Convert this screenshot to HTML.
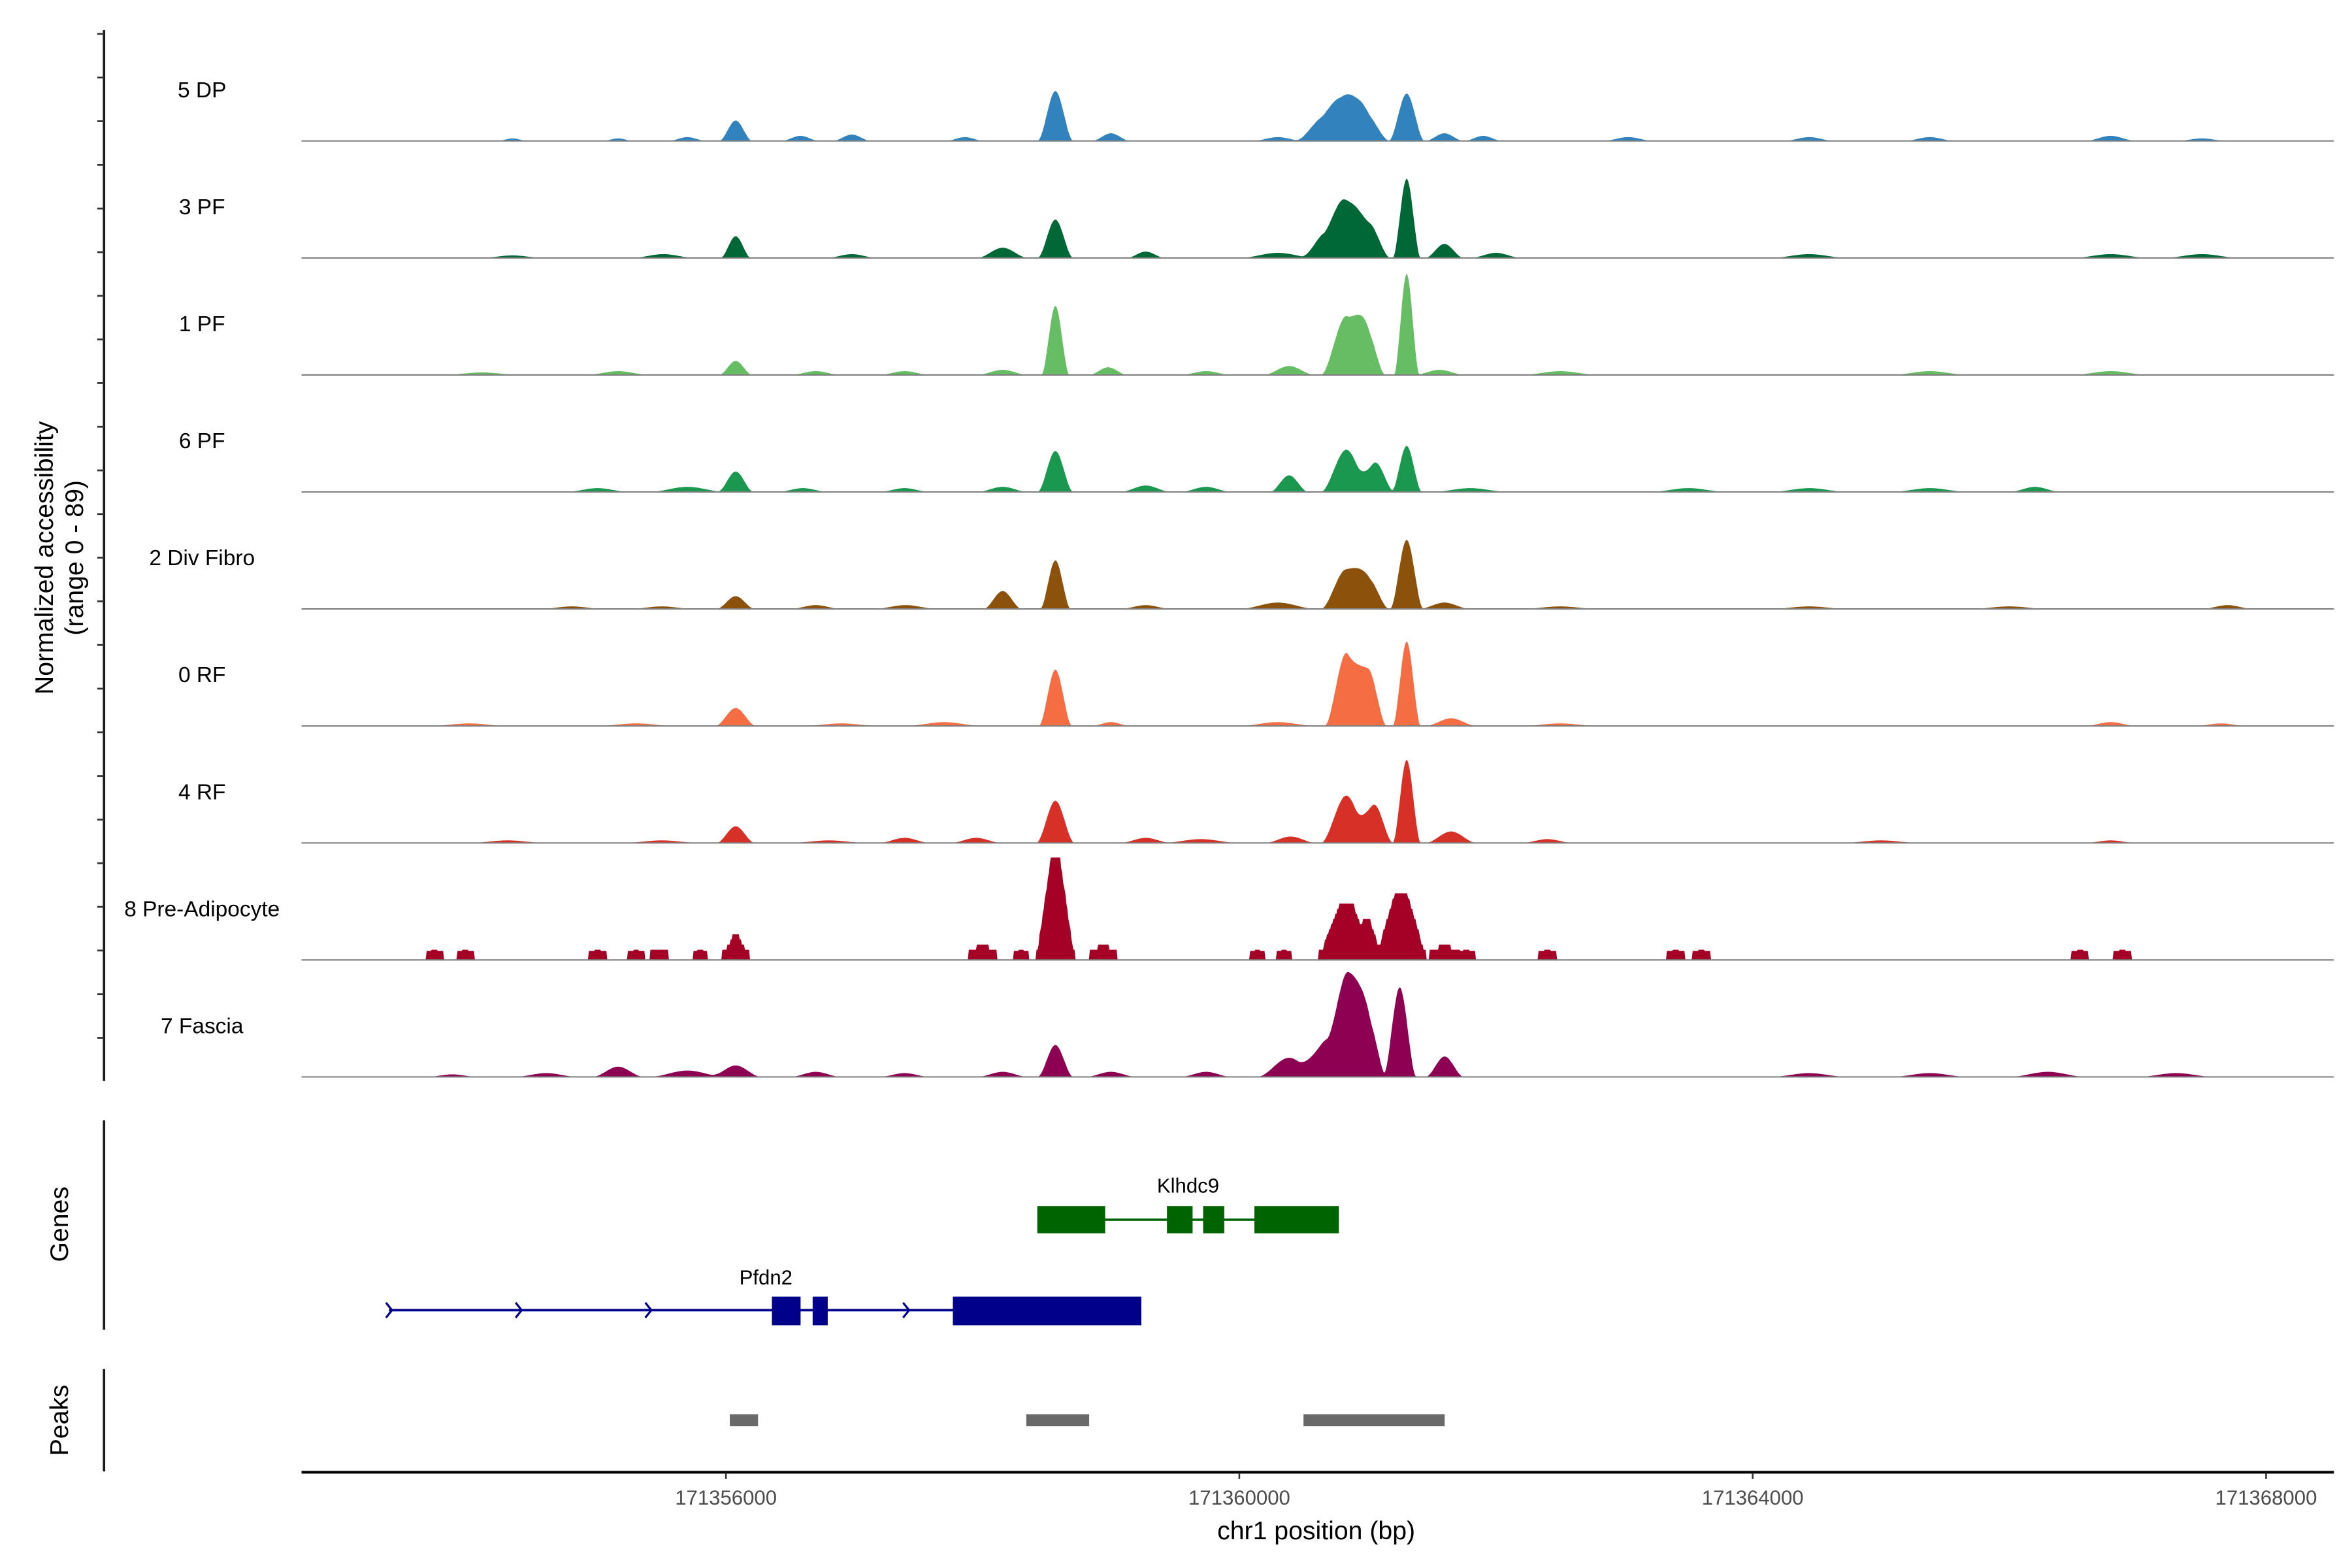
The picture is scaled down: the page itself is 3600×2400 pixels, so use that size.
<!DOCTYPE html>
<html><head><meta charset="utf-8"><style>
html,body{margin:0;padding:0;background:#fff}
svg{display:block}
text{font-family:"Liberation Sans",sans-serif}
</style></head><body>
<svg id="chart" width="3600" height="2400" viewBox="0 0 1560 1040" xmlns="http://www.w3.org/2000/svg">
<g id="tracks"></g>
<line x1="69" y1="20" x2="69" y2="717" stroke="#1a1a1a" stroke-width="1.6"/>
<g id="yticks"></g>
<text transform="translate(35,370) rotate(-90)" text-anchor="middle" font-size="17">Normalized accessibility</text>
<text transform="translate(55,370) rotate(-90)" text-anchor="middle" font-size="17">(range 0 - 89)</text>
<line x1="69" y1="743" x2="69" y2="882" stroke="#1a1a1a" stroke-width="1.6"/>
<text transform="translate(45,812) rotate(-90)" text-anchor="middle" font-size="17">Genes</text>
<g>
<line x1="733" y1="809" x2="888" y2="809" stroke="#006400" stroke-width="1.6"/>
<rect x="688" y="800" width="45" height="18" fill="#006400"/>
<rect x="774" y="800" width="17" height="18" fill="#006400"/>
<rect x="798" y="800" width="14" height="18" fill="#006400"/>
<rect x="832" y="800" width="56" height="18" fill="#006400"/>
<text x="788" y="791" text-anchor="middle" font-size="13.5">Klhdc9</text>
</g>
<g>
<line x1="258" y1="869" x2="757" y2="869" stroke="#00008B" stroke-width="1.6"/>
<path d="M256,864 L260,869 L256,874 M342,864 L346,869 L342,874 M428,864 L432,869 L428,874 M599,864 L603,869 L599,874" stroke="#00008B" stroke-width="1.4" fill="none"/>
<rect x="512" y="860" width="19" height="19" fill="#00008B"/>
<rect x="539" y="860" width="10" height="19" fill="#00008B"/>
<rect x="632" y="860" width="125" height="19" fill="#00008B"/>
<text x="508" y="852" text-anchor="middle" font-size="13.5">Pfdn2</text>
</g>
<line x1="69" y1="908" x2="69" y2="976" stroke="#1a1a1a" stroke-width="1.6"/>
<text transform="translate(45,942) rotate(-90)" text-anchor="middle" font-size="17">Peaks</text>
<g id="peaks"></g>
<line x1="200" y1="976.5" x2="1548" y2="976.5" stroke="#000" stroke-width="1.8"/>
<g id="xticks"></g>
<text x="873" y="1021" text-anchor="middle" font-size="17">chr1 position (bp)</text>
</svg>
<script>
const NS="http://www.w3.org/2000/svg";
const trackNames=["5 DP","3 PF","1 PF","6 PF","2 Div Fibro","0 RF","4 RF","8 Pre-Adipocyte","7 Fascia"];
const trackColors=["#3182bd","#006837","#66bd63","#1a9850","#8c510a","#f46d43","#d73027","#a50026","#8e0152"];
const xTicks=[171356000,171360000,171364000,171368000];
const peakStarts=[171356030,171358340,171360500];
const peakEnds=[171356250,171358830,171361600];
// bump positions (bp), heights (0-89 scale), half-widths (bp)
const pos_dp=[171354338,171355160,171355700,171356076,171356580,171356981,171357862,171358567,171359000,171360300,171360681,171360834,171360975,171361304,171361598,171361900,171363030,171364440,171365380,171366790,171367500];
const val_dp=[2,2,3,16,4,5,3,39,6,3,20,25,22,37,6,4,3,3,3,4,2];
const wid_dp=[120,120,150,130,150,150,150,140,150,200,250,200,200,140,150,150,200,200,200,200,200];
const pos_pf3=[171354338,171355512,171356076,171356981,171358156,171358567,171359271,171360300,171360681,171360834,171361000,171361304,171361598,171362000,171364440,171366790,171367500];
const val_pf3=[2,3,17,3,8,30,5,4,20,42,28,62,11,4,3,3,3];
const wid_pf3=[250,250,120,200,200,140,150,300,200,180,180,110,150,200,300,300,300];
const pos_pf1=[171354100,171355160,171356076,171356700,171357392,171358156,171358567,171358978,171359741,171360388,171360834,171360990,171361304,171361560,171362500,171365380,171366790];
const val_pf1=[2,3,11,3,3,4,54,6,3,7,46,35,79,4,3,3,3];
const wid_pf1=[300,250,130,200,200,200,110,150,200,200,200,150,100,200,300,300,300];
const pos_pf6=[171355000,171355700,171356076,171356600,171357392,171358156,171358567,171359271,171359741,171360388,171360834,171361060,171361304,171361800,171363500,171364440,171365380,171366200];
const val_pf6=[3,4,16,3,3,4,32,5,4,13,33,23,36,3,3,3,3,4];
const wid_pf6=[250,300,140,200,200,200,140,200,200,150,200,150,120,300,300,300,300,200];
const pos_div=[171354800,171355500,171356076,171356700,171357400,171358156,171358567,171359271,171360300,171360834,171361000,171361304,171361598,171362500,171364440,171366000,171367700];
const val_div=[2,2,10,3,3,14,38,3,5,31,24,54,5,2,2,2,3];
const wid_div=[250,250,150,200,250,150,120,200,300,200,170,130,200,300,300,300,200];
const pos_rf0=[171354000,171355300,171356076,171356900,171357700,171358567,171359000,171360300,171360834,171361000,171361304,171361650,171362500,171366790,171367650];
const val_rf0=[2,2,14,2,3,44,3,3,57,45,66,6,2,3,2];
const wid_rf0=[300,300,160,300,300,130,150,300,170,150,110,200,300,200,200];
const pos_rf4=[171354300,171355500,171356076,171356800,171357392,171357950,171358567,171359271,171359700,171360400,171360834,171361050,171361304,171361650,171362400,171365000,171366790];
const val_rf4=[2,2,13,2,4,4,33,4,3,5,37,30,65,9,3,2,2];
const wid_rf4=[300,300,150,300,200,200,150,200,300,200,200,150,110,200,200,300,200];
const pos_pre=[171353730,171353970,171355000,171355300,171355480,171355800,171356076,171358000,171358300,171358567,171358940,171360140,171360350,171360834,171360990,171361260,171361600,171361770,171362400,171363400,171363600,171366550,171366880];
const val_pre=[7,7,7,7,9,7,19,13,7,80,13,7,7,44,30,53,13,7,7,7,7,7,7];
const wid_pre=[70,70,70,70,70,60,110,110,60,150,110,60,60,220,130,200,120,70,70,70,70,70,70];
const pos_fas=[171353868,171354600,171355160,171355700,171356076,171356700,171357392,171358156,171358567,171359000,171359741,171360388,171360700,171360860,171361000,171361250,171361600,171364440,171365380,171366300,171367300];
const val_fas=[2,3,8,5,9,4,3,4,25,4,4,15,30,72,45,70,16,3,3,4,3];
const wid_fas=[200,250,200,300,200,200,200,200,140,200,200,250,250,180,150,130,150,300,300,300,300];

const posSets=[pos_dp,pos_pf3,pos_pf1,pos_pf6,pos_div,pos_rf0,pos_rf4,pos_pre,pos_fas];
const valSets=[val_dp,val_pf3,val_pf1,val_pf6,val_div,val_rf0,val_rf4,val_pre,val_fas];
const widSets=[wid_dp,wid_pf3,wid_pf1,wid_pf6,wid_div,wid_rf0,wid_rf4,wid_pre,wid_fas];

const X0=171352700, X1=171368500, YMAX=89;
function xs(bp){return 481.5+(bp-171356000)*340.5/4000;}
const trackH=77.6, firstBase=93.5;
function ys(i,v){return firstBase+i*trackH - Math.min(v,YMAX)/YMAX*(trackH-2);}

const tracks=document.getElementById('tracks');
for(let i=0;i<trackNames.length;i++){
  const P=posSets[i],V=valSets[i],W=widSets[i],isBox=(i===7);
  let d="M"+xs(X0).toFixed(1)+","+ys(i,0).toFixed(1);
  for(let bp=X0;bp<=X1;bp+=8){
    let v=0;
    for(let k=0;k<P.length;k++){
      const dd=Math.abs(bp-P[k])/W[k];
      if(dd<1){
        if(isBox){
          let b=V[k]*Math.min(1,(1-dd)*1.3);
          if(V[k]>8) b=Math.max(7,b);
          v=Math.max(v,b);
        }
        else { const s=1-dd; v+=V[k]*s*s*(3-2*s); }
      }
    }
    if(isBox && v>0) v=Math.max(7,Math.round(v/4)*4);
    d+=" L"+xs(bp).toFixed(1)+","+ys(i,v).toFixed(2);
  }
  d+=" L"+xs(X1).toFixed(1)+","+ys(i,0).toFixed(1)+" Z";
  const p=document.createElementNS(NS,'path');
  p.setAttribute('d',d);p.setAttribute('fill',trackColors[i]);
  
  
  tracks.appendChild(p);
  const bl=document.createElementNS(NS,'line');
  bl.setAttribute('x1',200);bl.setAttribute('x2',1548);
  bl.setAttribute('y1',ys(i,0));bl.setAttribute('y2',ys(i,0));
  bl.setAttribute('stroke','#7f7f7f');bl.setAttribute('stroke-width','0.9');
  
  
  tracks.appendChild(bl);
  const t=document.createElementNS(NS,'text');
  t.setAttribute('x',134);t.setAttribute('y',ys(i,0)-29);
  t.setAttribute('text-anchor','middle');t.setAttribute('font-size','14.5');
  t.textContent=trackNames[i];
  
  
  tracks.appendChild(t);
}
const yt=document.getElementById('yticks');
for(let y=22.5;y<=716;y+=28.95){
  const l=document.createElementNS(NS,'line');
  l.setAttribute('x1',64.5);l.setAttribute('x2',69);l.setAttribute('y1',y);l.setAttribute('y2',y);
  l.setAttribute('stroke','#333');l.setAttribute('stroke-width','1.2');
  
  
  yt.appendChild(l);
}
const pk=document.getElementById('peaks');
for(let k=0;k<peakStarts.length;k++){
  const r=document.createElementNS(NS,'rect');
  r.setAttribute('x',xs(peakStarts[k]));r.setAttribute('width',xs(peakEnds[k])-xs(peakStarts[k]));
  r.setAttribute('y',938);r.setAttribute('height',8);r.setAttribute('fill','#696969');
  
  
  pk.appendChild(r);
}
const xt=document.getElementById('xticks');
for(const v of xTicks){
  const x=xs(v);
  const l=document.createElementNS(NS,'line');
  l.setAttribute('x1',x);l.setAttribute('x2',x);l.setAttribute('y1',977);l.setAttribute('y2',981);
  l.setAttribute('stroke','#333');l.setAttribute('stroke-width','1.1');
  
  
  xt.appendChild(l);
  const t=document.createElementNS(NS,'text');
  t.setAttribute('x',x);t.setAttribute('y',998);t.setAttribute('text-anchor','middle');
  t.setAttribute('font-size','13.5');t.setAttribute('fill','#4d4d4d');
  t.textContent=v;
  
  
  xt.appendChild(t);
}
</script>
</body></html>
